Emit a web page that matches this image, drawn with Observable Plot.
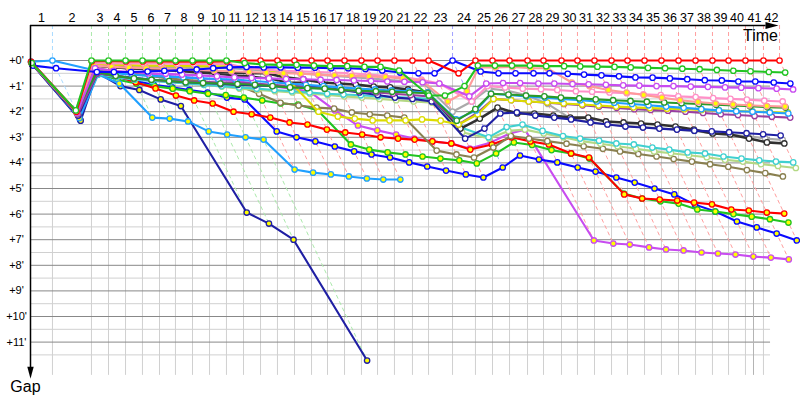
<!DOCTYPE html>
<html><head><meta charset="utf-8">
<script src="https://cdn.jsdelivr.net/npm/d3@7"></script>
<script src="https://cdn.jsdelivr.net/npm/@observablehq/plot@0.6"></script>
<style>body{margin:0;background:#fff} svg{display:block}</style>
</head><body><div id="chart"></div>
<script>
// ---- data (gap to leader in minutes, per lap 0..42) ----
const lapNumbers = [0,1,2,3,4,5,6,7,8,9,10,11,12,13,14,15,16,17,18,19,20,21,22,23,24,25,26,27,28,29,30,31,32,33,34,35,36,37,38,39,40,41,42];
const leaderTime = [0,1.83,5.08,6.5,7.92,9.33,10.75,12.08,13.5,14.92,16.33,17.75,19.17,20.58,22.0,23.42,24.75,26.17,27.58,28.92,30.33,31.83,33.17,35.17,37.08,38.5,39.92,41.42,42.75,44.25,45.58,47.0,48.42,49.75,51.17,52.58,54.0,55.42,56.83,58.17,59.58,61.08,62.42];
const finishTime = 60.25;
const gapTicks = [0,1,2,3,4,5,6,7,8,9,10,11];
const halfTicks = [0.5,1.5,2.5,3.5,4.5,5.5,6.5,7.5,8.5,9.5,10.5,11.5];

const redW = [0.05,2.0,0.03,0.03,0.04,0.04,0.04,0.05,0.05,0.05,0.04,0,0,0,0,0,0,0,0,0,0,0,0,0.5,0,0,0,0,0,0,0,0,0,0,0,0,0,0,0,0,0,0,0];
const greenW = [0.1,1.95,0,0,0,0,0,0,0,0,0,0.1,0.15,0.17,0.17,0.2,0.22,0.22,0.25,0.25,0.39,1.37,1.37,1.0,0.2,0.2,0.2,0.2,0.22,0.22,0.23,0.24,0.25,0.27,0.29,0.3,0.32,0.34,0.37,0.4,0.42,0.45,0.47];
const blueW = [0.2,0.3,0.45,0.45,0.45,0.43,0.4,0.38,0.35,0.3,0.27,0.25,0.27,0.27,0.28,0.28,0.3,0.3,0.33,0.39,0.47,0.5,0.5,0,0.43,0.5,0.5,0.5,0.5,0.52,0.55,0.58,0.62,0.66,0.67,0.7,0.73,0.77,0.78,0.82,0.82,0.86,0.9];
const skyW = [0.05,0,0.4,0.5,0.55,0.6,0.63,0.66,0.7,0.72,0.74,0.8,0.85,0.9,0.95,1.0,1.05,1.1,1.13,1.17,1.2,1.25,2.3,1.95,1.3,1.35,1.4,1.45,1.5,1.55,1.6,1.65,1.7,1.75,1.8,1.85,1.9,1.95,1.98,2.0,2.03,2.07,null];
const violetW = [0.1,2.05,0.3,0.4,0.45,0.5,0.52,0.55,0.58,0.62,0.66,0.68,0.7,0.72,0.73,0.75,0.76,0.78,0.8,0.82,0.83,0.85,0.9,1.4,0.9,0.88,0.88,0.9,0.9,0.92,0.93,0.95,0.97,0.98,1.0,1.0,1.02,1.03,1.05,1.06,1.08,1.1,1.13];
const purpleW = [0.15,2.1,0.5,0.6,0.7,0.75,0.8,0.82,0.84,0.86,0.86,0.9,0.95,1.0,1.05,1.1,1.15,1.2,1.25,1.3,1.35,1.4,2.5,2.05,1.5,1.55,1.6,1.65,1.7,1.75,1.8,1.85,1.9,1.93,1.96,2.0,2.05,2.1,2.13,2.17,2.2,2.23,null];
const dkgreenW = [0.1,2.0,0.45,0.6,0.7,0.75,0.8,0.85,0.88,0.9,0.92,0.95,1.0,1.05,1.08,1.1,1.15,1.18,1.2,1.22,1.25,1.28,2.35,1.9,1.3,1.33,1.37,1.4,1.45,1.48,1.52,1.55,1.58,1.61,1.64,1.67,1.7,1.73,1.76,1.79,1.82,1.84,null];
const yellowW = [0.1,2.05,0.15,0.17,0.18,0.2,0.2,0.22,0.22,0.23,0.23,0.25,0.3,0.6,2.0,2.19,2.27,2.34,2.34,2.34,2.3,2.35,2.5,2.1,1.5,1.55,1.6,1.64,1.68,1.72,1.76,1.8,1.83,1.86,1.88,1.9,1.93,1.95,1.97,1.99,2.01,2.03,null];
const pinkW = [0.05,1.95,0.1,0.12,0.12,0.12,0.12,0.13,0.13,0.13,0.13,0.3,0.35,0.4,0.42,0.45,0.47,0.5,0.55,0.6,0.65,0.75,0.9,1.6,1.0,1.05,1.1,1.12,1.15,1.2,1.22,1.25,1.28,1.32,1.35,1.4,1.43,1.47,1.5,1.53,1.57,1.6,null];
const pinkY = [0.1,2.0,0.2,0.25,0.28,0.3,0.32,0.35,0.37,0.4,0.42,0.45,0.48,0.5,0.52,0.55,0.58,0.6,0.62,0.65,0.7,0.8,1.6,1.2,0.27,0.27,0.25,0.3,0.3,0.86,1.0,1.15,1.25,1.35,1.45,1.55,1.62,1.68,1.72,1.75,1.78,1.8,null];
const blackW = [0.1,2.1,0.2,0.25,0.3,0.33,0.36,0.4,0.42,0.45,0.47,0.5,0.5,0.66,0.74,0.86,0.9,0.94,1.02,1.05,1.13,1.25,2.66,2.27,1.84,2.07,2.07,2.15,2.23,2.23,2.38,2.42,2.46,2.5,2.58,2.7,2.85,2.89,3.05,3.2,3.24,null,null];
const blackY = [0.05,2.0,0.17,0.27,0.31,0.33,0.38,0.42,0.48,0.52,0.58,0.62,0.7,0.86,0.86,null,null,null,null,null,null,null,null,null,null,null,null,null,null,null,null,null,null,null,null,null,null,null,null,null,null,null,null];
const navyW = [0.15,2.15,0.5,0.6,0.68,0.74,0.8,0.85,0.88,0.92,0.95,0.97,0.99,1.01,1.03,1.05,1.15,1.25,1.35,1.45,1.5,1.6,3.05,2.66,2.07,2.03,2.15,2.23,2.3,2.42,2.5,2.58,2.62,2.66,2.7,2.74,2.77,2.8,2.84,2.88,2.93,null,null];
const grayW = [0.1,2.0,0.15,0.2,0.22,0.25,0.27,0.28,0.3,0.3,0.3,0.35,0.4,0.45,0.5,0.55,0.6,0.65,0.7,0.75,0.8,0.85,2.0,1.6,1.1,1.17,1.35,1.7,2.27,2.4,2.5,2.55,2.6,2.65,2.7,2.75,2.85,2.9,2.95,3.05,3.1,null,null];
const cyanW = [0.1,2.1,0.55,0.65,0.75,0.8,0.85,0.9,0.95,1.0,1.05,1.1,1.15,1.2,1.25,1.3,1.33,1.36,1.4,1.43,1.46,1.5,2.6,3.0,2.6,2.5,2.75,2.95,3.05,3.13,3.24,3.28,3.4,3.48,3.59,3.63,3.75,3.83,3.9,3.95,3.98,null,null];
const lgreenW = [0.1,2.05,0.5,0.62,0.72,0.78,0.84,0.9,0.95,1.02,1.1,1.15,1.2,1.25,1.3,1.35,1.4,1.45,1.5,1.55,1.6,1.65,2.8,3.05,2.75,2.7,2.85,3.0,3.15,3.25,3.35,3.45,3.55,3.62,3.7,3.78,3.88,3.95,4.05,4.12,4.2,null,null];
const oliveW = [0.15,2.15,0.3,0.4,0.5,0.6,0.7,0.75,0.8,0.9,0.98,1.3,1.65,1.76,1.84,1.88,2.03,2.1,2.15,2.23,3.52,3.67,3.79,3.4,2.95,3.05,3.15,3.25,3.35,3.45,3.55,3.65,3.75,3.85,3.95,4.05,4.15,4.28,4.4,4.53,null,null,null];
const redY = [0.1,2.2,0.35,0.6,0.85,1.09,1.37,1.56,1.68,2.0,2.1,2.23,2.42,2.5,2.7,2.81,2.89,3.0,3.05,3.09,3.16,3.24,3.48,3.28,3.0,3.16,3.28,3.63,3.79,5.23,5.39,5.43,5.47,5.55,5.62,5.82,5.86,5.94,5.98,null,null,null,null];
const greenY = [0.1,2.1,0.5,0.75,0.9,1.0,1.1,1.2,1.3,1.35,1.45,1.56,1.68,1.72,1.95,3.28,3.48,3.59,3.67,3.75,3.83,3.9,4.02,3.63,3.2,3.3,3.5,3.63,3.83,5.2,5.39,5.5,5.59,5.82,5.9,6.0,6.1,6.2,6.33,null,null,null,null];
const blueY = [0.15,2.3,0.45,0.65,0.8,0.95,1.05,1.15,1.25,1.45,1.52,2.77,3.0,3.16,3.36,3.55,3.67,3.79,3.98,4.14,4.3,4.45,4.57,4.18,3.71,3.87,3.98,4.18,4.34,4.57,4.77,5.0,5.23,5.63,5.9,6.29,6.52,6.76,7.03,null,null,null,null];
const violetY = [0.1,2.15,0.35,0.45,0.5,0.55,0.6,0.65,0.7,0.75,0.8,0.9,1.0,1.1,1.2,1.95,2.54,2.73,2.89,3.05,3.16,3.24,3.44,3.2,2.85,2.7,7.03,7.15,7.19,7.3,7.38,7.42,7.5,7.54,7.58,7.66,7.7,7.77,null,null,null,null,null];
const navyY = [0.15,2.35,0.47,1.0,1.15,1.52,1.78,5.94,6.37,7.0,11.72,null,null,null,null,null,null,null,null,null,null,null,null,null,null,null,null,null,null,null,null,null,null,null,null,null,null,null,null,null,null,null,null];
const skyY = [0.1,2.25,0.55,0.9,2.23,2.27,2.38,2.77,2.89,3.0,3.09,4.26,4.38,4.45,4.53,4.61,4.65,4.65,null,null,null,null,null,null,null,null,null,null,null,null,null,null,null,null,null,null,null,null,null,null,null,null,null];

// drawing order (back to front), colours and marker fills
const seriesNames  = ["violetY","blueY","greenY","redY","navyY","skyY","oliveW","lgreenW","cyanW","grayW","blackY","blackW","navyW","purpleW","yellowW","skyW","dkgreenW","pinkW","pinkY","violetW","blueW","redW","greenW"];
const seriesColors = ["#c84cf0","#0a0aff","#21c421","#ff0000","#1f1fa3","#20a0ff","#8a8050","#b4d884","#40d0d0","#aaaaaa","#303030","#303030","#1f1fa3","#9a3ea0","#dcdc00","#20a0ff","#2a9a2a","#ff90c8","#ff9a9a","#c84cf0","#0a0aff","#ff0000","#21c421"];
const seriesFills  = ["#ffff00","#ffff00","#ffff00","#ffff00","#ffff00","#ffff00","#ffffff","#ffffff","#ffffff","#ffffff","#ffff00","#ffffff","#ffffff","#ffffff","#ffffff","#ffffff","#ffffff","#ffffff","#ffff00","#ffffff","#ffffff","#ffffff","#ffffff"];

const gapData = {redW, greenW, blueW, skyW, violetW, purpleW, dkgreenW, yellowW, pinkW, pinkY, blackW, blackY, navyW, grayW, cyanW, lgreenW, oliveW, redY, greenY, blueY, violetY, navyY, skyY};

// ---- geometry of the frame (in data units) ----
const yTop = -35 / 25.6;          // top of plotting frame (x axis line)
const yBottom = yTop + 353 / 25.6;
const gridBottom = 12.3;
const gridEnd = 61.67;

const seriesRows = seriesNames.map((name, i) => {
  const g = gapData[name];
  return lapNumbers.filter(n => g[n] != null).map(n => ({
    name, lap: n, gap: g[n], t: leaderTime[n] + g[n]
  }));
});

// leader lap markers (dashed) coloured after the leader of each lap
const leaderRows = lapNumbers.slice(1).map(n => {
  let leader = null, maxGap = 0;
  seriesNames.forEach((name, i) => {
    const v = gapData[name][n];
    if (v == null) return;
    if (v === 0 && leader == null) leader = i;
    if (v > maxGap) maxGap = v;
  });
  const base = leader == null ? "#ff0000" : seriesColors[leader];
  return {lap: n, t: leaderTime[n], maxGap, c: d3.interpolateRgb(base, "#ffffff")(0.62)};
});

const lapLabels = lapNumbers.slice(1).map(n => ({
  lap: String(n), x: (leaderTime[n - 1] + leaderTime[n]) / 2
}));

const arrowRight = {draw(ctx) { ctx.moveTo(6.5, 0); ctx.lineTo(-6.5, -3.6); ctx.lineTo(-6.5, 3.6); ctx.closePath(); }};
const arrowDown = {draw(ctx) { ctx.moveTo(0, 6); ctx.lineTo(-3.2, -6); ctx.lineTo(3.2, -6); ctx.closePath(); }};

const marks = [
  Plot.ruleY(halfTicks, {x1: 0, x2: gridEnd, stroke: "#d0d0d0", strokeWidth: 1}),
  Plot.ruleX(lapNumbers.slice(1, 42), {x: n => leaderTime[n], y1: 0, y2: gridBottom, stroke: "#d0d0d0", strokeWidth: 1}),
  Plot.ruleY(gapTicks, {x1: 0, x2: gridEnd, stroke: "#888888", strokeWidth: 1}),
  Plot.ruleX([finishTime], {y1: yTop, y2: gridBottom, stroke: "#b4b4b4", strokeWidth: 1}),
  Plot.ruleX(leaderRows, {x: "t", y1: yTop, y2: 0, stroke: "c", strokeWidth: 1, strokeDasharray: "4,3"}),
  Plot.link(leaderRows, {x1: "t", y1: 0, x2: d => d.t + d.maxGap, y2: "maxGap", stroke: "c", strokeWidth: 1, strokeDasharray: "4,3"})
];

seriesRows.forEach((rows, i) => {
  const w = seriesNames[i] === "blackW" ? 2.6 : 2.1;
  marks.push(Plot.line(rows, {x: "t", y: "gap", stroke: seriesColors[i], strokeWidth: w, strokeLinejoin: "round"}));
  marks.push(Plot.dot(rows, {x: "t", y: "gap", r: 2.7, fill: seriesFills[i], stroke: seriesColors[i], strokeWidth: 1.3}));
});

marks.push(
  Plot.ruleY([yTop], {x1: 0, x2: 61.3, stroke: "#000", strokeWidth: 1.5}),
  Plot.ruleX([0], {y1: yTop, y2: 12.0, stroke: "#000", strokeWidth: 1.5}),
  Plot.dot([0], {x: 61.79, y: yTop, symbol: arrowRight, fill: "#000", stroke: "none", r: 4}),
  Plot.dot([0], {x: 0, y: 12.2, symbol: arrowDown, fill: "#000", stroke: "none", r: 4}),
  Plot.text(lapLabels, {x: "x", y: yTop, dy: -8, text: "lap", fontSize: 12.5, fill: "#000"}),
  Plot.text(gapTicks, {x: 0, y: d => d, dx: -14, text: d => `+${d}'`, fontSize: 11, fill: "#000"}),
  Plot.text(["Time"], {x: 60.83, y: yTop, dy: 10, text: d => d, fontSize: 16, fill: "#000"}),
  Plot.text(["Gap"], {x: -0.42, y: yBottom, dy: 8, text: d => d, fontSize: 16, fill: "#000"})
);

const chart = Plot.plot({
  width: 800, height: 400,
  marginLeft: 30, marginRight: 2, marginTop: 25, marginBottom: 22,
  x: {domain: [0, 64], axis: null},
  y: {domain: [yTop, yBottom], reverse: true, axis: null},
  color: {type: "identity"},
  style: {fontFamily: "'Liberation Sans', Arial, sans-serif", background: "#fff", overflow: "visible"},
  marks
});
document.getElementById("chart").appendChild(chart);
</script>
</body></html>
